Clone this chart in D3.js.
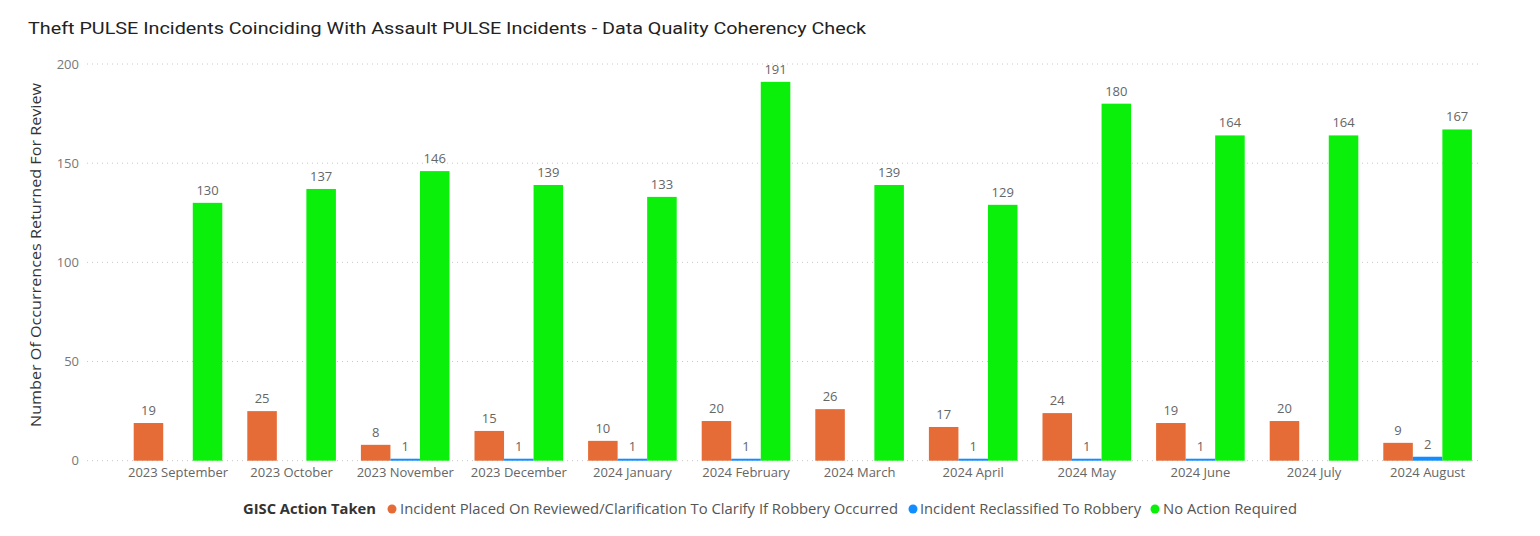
<!DOCTYPE html>
<html><head><meta charset="utf-8">
<script src="https://cdn.jsdelivr.net/npm/d3@7"></script>
<style>body{margin:0;background:#fff}svg{display:block}</style>
</head><body><svg id="c" width="1540" height="536"></svg>
<script>
const categories = ["2023 September","2023 October","2023 November","2023 December","2024 January","2024 February","2024 March","2024 April","2024 May","2024 June","2024 July","2024 August"];
const seriesNames = ["Incident Placed On Reviewed/Clarification To Clarify If Robbery Occurred","Incident Reclassified To Robbery","No Action Required"];
const reviewed = [19,25,8,15,10,20,26,17,24,19,20,9];
const reclassified = [null,null,1,1,1,1,null,1,1,1,null,2];
const noAction = [130,137,146,139,133,191,139,129,180,164,164,167];
const yTicks = [0,50,100,150,200];
const colors = ["#E66C37","#118DFF","#0AF00A"];

const svg = d3.select("#c");
const font = "'Open Sans','Noto Sans',sans-serif";
const titleFont = "'Roboto','Liberation Sans',sans-serif";

const x = d3.scaleBand().domain(categories).range([121.2,1484.4]).paddingInner(0.22).paddingOuter(0.11);
const xs = d3.scaleBand().domain([0,1,2]).range([0,x.bandwidth()]);
const y = d3.scaleLinear().domain([0,200]).range([460.7,64]);

// title
svg.append("text").attr("x",28).attr("y",34).attr("font-family",titleFont).attr("font-size",17)
  .attr("font-weight",400).attr("fill","#222").attr("textLength",838).attr("lengthAdjust","spacingAndGlyphs")
  .text("Theft PULSE Incidents Coinciding With Assault PULSE Incidents - Data Quality Coherency Check");

// gridlines
svg.append("g").selectAll("line").data(yTicks).join("line")
  .attr("x1",87).attr("x2",1480).attr("y1",d=>y(d)).attr("y2",d=>y(d))
  .attr("stroke","#c8c8c8").attr("stroke-width",1).attr("stroke-dasharray","1,4");

// y axis
const ya = svg.append("g").attr("transform","translate(79,0)")
  .call(d3.axisLeft(y).tickValues(yTicks).tickSize(0).tickPadding(0));
ya.select(".domain").remove();
ya.selectAll("text").attr("font-family",font).attr("font-size",13).attr("fill","#777");

svg.append("text").attr("transform","translate(41,255) rotate(-90)").attr("text-anchor","middle")
  .attr("font-family",font).attr("font-size",14).attr("fill","#333")
  .attr("textLength",344).attr("lengthAdjust","spacingAndGlyphs")
  .text("Number Of Occurrences Returned For Review");

// x axis
const xa = svg.append("g").attr("transform","translate(0,463)")
  .call(d3.axisBottom(x).tickSize(0).tickPadding(5));
xa.select(".domain").remove();
xa.selectAll("text").attr("font-family",font).attr("font-size",13).attr("fill","#666");

const series = [reviewed, reclassified, noAction];
series.forEach((vals,si)=>{
  const g = svg.append("g");
  const data = categories.map((c,i)=>({c,v:vals[i]})).filter(d=>d.v!=null);
  g.selectAll("rect").data(data).join("rect")
    .attr("x",d=>x(d.c)+xs(si)).attr("width",xs.bandwidth())
    .attr("y",d=>y(d.v)).attr("height",d=>y(0)-y(d.v)).attr("fill",colors[si]);
  g.selectAll("text").data(data).join("text")
    .attr("x",d=>x(d.c)+xs(si)+xs.bandwidth()/2).attr("y",d=>y(d.v)-8)
    .attr("text-anchor","middle").attr("font-family",font).attr("font-size",13).attr("fill","#666")
    .text(d=>d.v);
});

// legend
const lg = svg.append("g").attr("font-family",font).attr("font-size",14);
lg.append("text").attr("x",243).attr("y",514).attr("font-weight","bold").attr("fill","#333")
  .attr("textLength",133).attr("lengthAdjust","spacingAndGlyphs").text("GISC Action Taken");
const legPos = [{cx:392,tx:400,w:498},{cx:913,tx:920,w:221},{cx:1155,tx:1163,w:134}];
seriesNames.forEach((n,i)=>{
  lg.append("circle").attr("cx",legPos[i].cx).attr("cy",509).attr("r",4.5).attr("fill",colors[i]);
  lg.append("text").attr("x",legPos[i].tx).attr("y",514).attr("fill","#555")
    .attr("textLength",legPos[i].w).attr("lengthAdjust","spacingAndGlyphs").text(n);
});
</script></body></html>
